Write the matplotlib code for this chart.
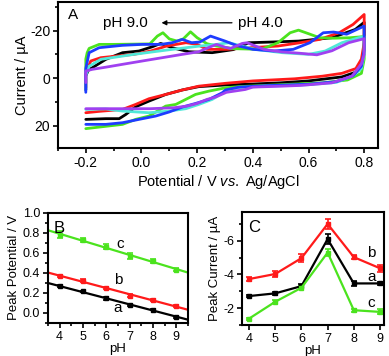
import matplotlib
matplotlib.use("Agg")
import matplotlib.pyplot as plt
import numpy as np
from matplotlib.ticker import MultipleLocator

plt.rcParams['font.family'] = ['Liberation Sans', 'DejaVu Sans']
plt.rcParams['mathtext.fontset'] = 'custom'
plt.rcParams['mathtext.it'] = 'Liberation Sans:italic'
plt.rcParams['mathtext.rm'] = 'Liberation Sans'
plt.rcParams['axes.unicode_minus'] = False

# ---- panel A: cyclic voltammograms (E / V, I / uA), anodic then cathodic branch
black_E = [-0.2, -0.2, -0.19, -0.176, -0.128, -0.068, -0.009, 0.039, 0.069, 0.11, 0.17, 0.254, 0.33,
           0.385, 0.47, 0.565, 0.684, 0.768, 0.8,
           0.8, 0.79, 0.77, 0.72, 0.6, 0.5, 0.4, 0.302, 0.206, 0.147, 0.087, 0.027, -0.021, -0.056,
           -0.08, -0.128, -0.2]
black_I = [5, -1, -3.5, -4.4, -7.9, -10.7, -11.4, -13.2, -14.6, -12.8, -11.1, -10.7, -12.0,
           -14.9, -15.2, -15.6, -17.0, -20.5, -23.5,
           -12, -5, -2.5, -0.5, 1.2, 2.0, 2.5, 2.9, 3.6, 5.0, 6.9, 9.7, 12.1, 15.3,
           17.1, 17.1, 17.4]

red_E = [-0.2, -0.2, -0.19, -0.182, -0.146, -0.087, -0.027, 0.033, 0.09, 0.16, 0.2, 0.235, 0.305,
         0.39, 0.49, 0.57, 0.64, 0.71, 0.76, 0.8,
         0.8, 0.79, 0.77, 0.72, 0.65, 0.55, 0.4, 0.302, 0.206, 0.147, 0.087, 0.027, -0.021, -0.068,
         -0.15, -0.2]
red_I = [4, -2, -5, -7.2, -8.6, -9.3, -10.0, -11.4, -13.5, -14.9, -14.2, -12.1, -12.1,
         -12.8, -13.5, -14.9, -16.3, -19.1, -22.6, -26.8,
         -15, -8, -4, -2, -0.8, 0.3, 1.2, 2.2, 3.4, 5.0, 6.9, 8.7, 11.1, 13.2,
         14.0, 14.6]

green_E = [-0.2, -0.2, -0.195, -0.188, -0.152, -0.1, -0.03, 0.03, 0.057, 0.077, 0.1, 0.128, 0.15,
           0.176, 0.2, 0.235, 0.27, 0.33, 0.43, 0.49, 0.534, 0.564, 0.605, 0.64, 0.69, 0.75, 0.8,
           0.8, 0.79, 0.74, 0.65, 0.5, 0.35, 0.302, 0.242, 0.194, 0.147, 0.123, 0.087, 0.063,
           0.027, -0.021, -0.068, -0.2]
green_I = [-3, -8, -10.7, -12.5, -14.2, -14.2, -14.3, -14.4, -17.7, -19.1, -16.5, -15.6, -16.5,
           -19.5, -17.0, -14.5, -13.5, -12.4, -12.1, -14.9, -19.1, -20.2, -18.5, -17.0, -16.8, -17.0, -17.5,
           -8, -2, 0.8, 2.0, 2.8, 3.6, 4.1, 5.5, 6.9, 9.7, 11.1, 11.8, 13.5,
           16.0, 17.4, 19.5, 21.3]

blue_E = [-0.2, -0.2, -0.188, -0.152, -0.068, 0.003, 0.07, 0.11, 0.147, 0.18, 0.21, 0.248, 0.3,
          0.34, 0.4, 0.475, 0.545, 0.605, 0.653, 0.69, 0.737, 0.8,
          0.8, 0.79, 0.76, 0.7, 0.6, 0.45, 0.35, 0.302, 0.29, 0.242, 0.194, 0.147, 0.099, 0.051,
          -0.009, -0.068, -0.128, -0.2]
blue_I = [6, -4, -10.7, -12.8, -13.8, -14.2, -14.2, -14.9, -16.3, -14.9, -15.2, -17.7, -15.6,
          -13.8, -12.1, -11.4, -12.1, -14.9, -19.1, -19.4, -18.5, -21.9,
          -12, -5, -1, 1.5, 2.6, 3.2, 3.8, 5.0, 6.2, 9.0, 10.7, 12.2, 14.3, 16.0,
          17.4, 18.8, 19.5, 19.5]

cyan_E = [-0.2, -0.2, -0.188, -0.146, -0.027, 0.09, 0.21, 0.27, 0.314, 0.36, 0.409, 0.505, 0.6,
          0.66, 0.72, 0.78, 0.8,
          0.8, 0.79, 0.76, 0.7, 0.6, 0.45, 0.35, 0.302, 0.254, 0.206, 0.159, 0.099, 0.027,
          -0.068, -0.128, -0.2]
cyan_I = [5, -1, -5, -7.9, -10.0, -11.8, -13.5, -14.2, -14.9, -13.5, -12.1, -10.7, -10.0,
          -11.4, -14.9, -17.0, -17.5,
          -10, -4, -1, 1.8, 2.8, 3.4, 4.0, 5.5, 9.0, 11.1, 12.9, 13.9, 14.6,
          13.9, 13.0, 13.2]

purple_E = [-0.2, -0.2, -0.176, -0.128, -0.068, 0.003, 0.075, 0.147, 0.206, 0.254, 0.27, 0.3, 0.32,
            0.362, 0.38, 0.44, 0.505, 0.565, 0.63, 0.684, 0.744, 0.79, 0.8,
            0.8, 0.79, 0.756, 0.684, 0.57, 0.505, 0.4, 0.373, 0.305, 0.266, 0.235, 0.2, 0.164,
            0.116, 0.033, -0.068, -0.2]
purple_I = [1.9, -3, -3.7, -4.6, -5.8, -7.2, -8.6, -10.0, -11.1, -13.5, -14.2, -13.0, -12.5,
            -14.6, -14.9, -12.1, -11.0, -10.5, -9.8, -11.5, -14.9, -16.3, -16.6,
            -10, -6, -0.8, 2.0, 3.1, 3.4, 3.8, 4.8, 6.0, 8.0, 9.0, 10.7, 11.8,
            12.5, 12.9, 12.9, 12.9]

# ---- panels B and C
pH = [4, 5, 6, 7, 8, 9]
Ep_a = [0.265, 0.215, 0.145, 0.076, 0.033, -0.04]
Ep_b = [0.37, 0.32, 0.25, 0.17, 0.13, 0.066]
Ep_c = [0.78, 0.73, 0.66, 0.57, 0.52, 0.43]
Ep_a_err = [0.01, 0.008, 0.015, 0.01, 0.008, 0.01]
Ep_b_err = [0.012, 0.015, 0.01, 0.015, 0.01, 0.01]
Ep_c_err = [0.035, 0.02, 0.025, 0.03, 0.02, 0.015]

Ip_a = [-2.72, -2.88, -3.31, -6.1, -3.47, -3.47]
Ip_b = [-3.73, -4.03, -4.97, -7.0, -5.03, -4.37]
Ip_c = [-1.38, -2.38, -3.21, -5.3, -1.88, -1.78]
Ip_a_err = [0.08, 0.1, 0.1, 0.3, 0.15, 0.08]
Ip_b_err = [0.12, 0.18, 0.25, 0.3, 0.1, 0.2]
Ip_c_err = [0.06, 0.08, 0.1, 0.2, 0.1, 0.15]

BLACK = '#000000'
RED = '#ff1a1a'
GREEN = '#4be31e'
BLUE = '#1e3cff'
CYAN = '#50e8d8'
PURPLE = '#a040f0'

fig = plt.figure(figsize=(3.89, 3.56), dpi=100)


def style(ax, size=9):
    for s in ax.spines.values():
        s.set_linewidth(1.5)
    ax.tick_params(which='both', direction='out', width=1.2, labelsize=size, pad=2)
    ax.tick_params(which='major', length=3.5)
    ax.tick_params(which='minor', length=2)


# panel A
axA = fig.add_axes([0.149, 0.584, 0.823, 0.410])
for E, I, c in [(black_E, black_I, BLACK), (red_E, red_I, RED), (green_E, green_I, GREEN),
                (cyan_E, cyan_I, CYAN), (blue_E, blue_I, BLUE), (purple_E, purple_I, PURPLE)]:
    axA.plot(E, I, color=c, lw=2.0, solid_joinstyle='round', solid_capstyle='round')
axA.set_xlim(-0.3, 0.85)
axA.set_ylim(29.5, -32)
axA.set_xticks([-0.2, 0.0, 0.2, 0.4, 0.6, 0.8])
axA.xaxis.set_minor_locator(MultipleLocator(0.1))
axA.set_yticks([-20, 0, 20])
axA.yaxis.set_minor_locator(MultipleLocator(10))
style(axA, 10)
axA.set_xlabel(r"Potential / V $\it{vs.}$ Ag/AgCl", fontsize=10.5, labelpad=2)
axA.set_ylabel("Current / µA", fontsize=10.5, labelpad=1)
axA.text(0.03, 0.91, "A", transform=axA.transAxes, fontsize=11, va='center')
axA.text(-0.14, -23.3, "pH 9.0", fontsize=11, va='center', ha='left')
axA.text(0.346, -23.3, "pH 4.0", fontsize=11, va='center', ha='left')
axA.annotate("", xy=(0.062, -23.3), xytext=(0.335, -23.3),
             arrowprops=dict(arrowstyle='-|>', color='black', lw=0.9, mutation_scale=7))

# panel B
axB = fig.add_axes([0.123, 0.093, 0.360, 0.309])
xfit = np.array([3.5, 9.5])
for y, err, c in [(Ep_a, Ep_a_err, BLACK), (Ep_b, Ep_b_err, RED), (Ep_c, Ep_c_err, GREEN)]:
    k, b = np.polyfit(pH, y, 1)
    axB.plot(xfit, k * xfit + b, color=c, lw=1.6)
    axB.errorbar(pH, y, yerr=err, fmt='s', color=c, ms=3.5, capsize=2, elinewidth=1.2, capthick=1.2)
axB.set_xlim(3.5, 9.5)
axB.set_ylim(-0.1, 1.0)
axB.set_xticks(pH)
axB.xaxis.set_minor_locator(MultipleLocator(0.5))
axB.set_yticks([0.0, 0.2, 0.4, 0.6, 0.8, 1.0])
axB.yaxis.set_minor_locator(MultipleLocator(0.1))
axB.yaxis.set_major_formatter(matplotlib.ticker.FormatStrFormatter('%.1f'))
style(axB, 9)
axB.set_xlabel("pH", fontsize=9.5, labelpad=0)
axB.set_ylabel("Peak Potential / V", fontsize=9.5, labelpad=2)
axB.text(0.04, 0.86, "B", transform=axB.transAxes, fontsize=12, va='center')
axB.text(6.3, 0.05, "a", fontsize=11, va='center')
axB.text(6.35, 0.33, "b", fontsize=11, va='center')
axB.text(6.45, 0.69, "c", fontsize=11, va='center')

# panel C
axC = fig.add_axes([0.622, 0.087, 0.365, 0.317])
for y, err, c in [(Ip_a, Ip_a_err, BLACK), (Ip_b, Ip_b_err, RED), (Ip_c, Ip_c_err, GREEN)]:
    axC.errorbar(pH, y, yerr=err, fmt='-s', color=c, ms=3.5, lw=1.6, capsize=2,
                 elinewidth=1.2, capthick=1.2)
axC.set_xlim(3.73, 9.15)
axC.set_ylim(-1.0, -7.7)
axC.set_xticks(pH)
axC.set_yticks([-2, -4, -6])
axC.yaxis.set_minor_locator(MultipleLocator(1))
style(axC, 9)
axC.set_xlabel("pH", fontsize=9.5, labelpad=0)
axC.set_ylabel("Peak Current / µA", fontsize=9.5, labelpad=2)
axC.text(0.04, 0.86, "C", transform=axC.transAxes, fontsize=12, va='center')
axC.text(8.5, -3.83, "a", fontsize=11, va='center')
axC.text(8.5, -5.27, "b", fontsize=11, va='center')
axC.text(8.5, -2.28, "c", fontsize=11, va='center')

fig.savefig("out.png", dpi=100)
